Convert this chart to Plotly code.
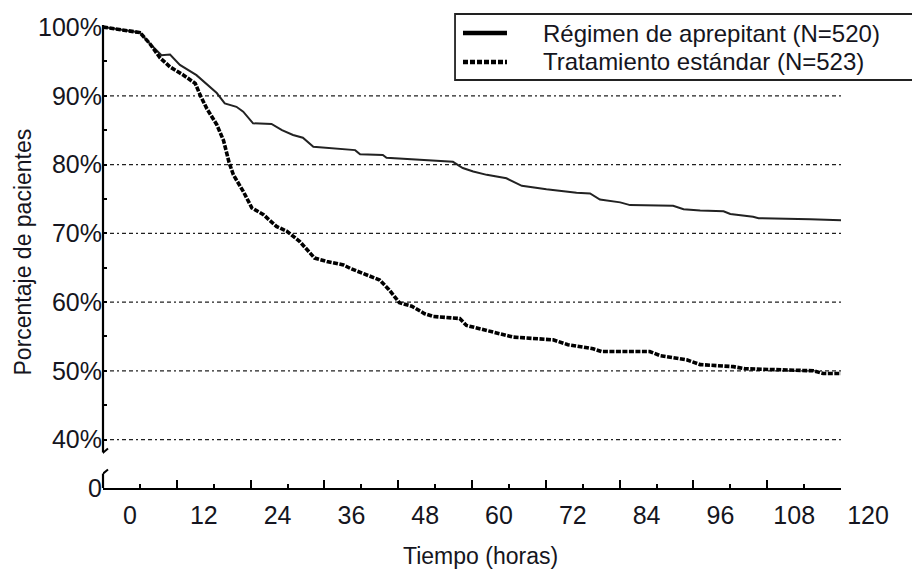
import plotly.graph_objects as go

# ---- data ----
apre_hours = [0, 2.8, 6.0, 7.6, 9.5, 10.9, 12.5, 15.2, 16.3, 18.5, 19.8, 21.7, 22.8, 24.4,
              27.4, 29.1, 30.9, 32.5, 34.2, 36.9, 39.6, 41.0, 41.8, 45.5, 46.1, 50.4, 53.2,
              56.9, 58.5, 60.2, 62.4, 65.6, 68.1, 72.1, 77.0, 79.2, 80.8, 84.1, 85.7, 92.7,
              94.4, 97.1, 100.9, 102.0, 105.7, 106.6, 115.0, 120]
apre_pct = [100, 99.6, 99.2, 97.6, 95.9, 96.0, 94.5, 93.0, 92.1, 90.4, 88.9, 88.4, 87.7, 86.0,
            85.9, 85.0, 84.3, 83.9, 82.6, 82.4, 82.1, 82.1, 81.5, 81.4, 81.0, 80.8, 80.6,
            80.4, 79.5, 79.0, 78.5, 78.0, 76.9, 76.4, 75.9, 75.8, 74.9, 74.5, 74.1, 74.0,
            73.5, 73.3, 73.2, 72.8, 72.4, 72.2, 72.05, 71.9]

std_hours = [0, 2.8, 6.0, 7.6, 9.3, 10.9, 13.1, 15.0, 15.8, 16.9, 18.5, 19.6, 20.5, 21.2,
             22.8, 24.2, 26.1, 28.2, 29.9, 32.0, 34.4, 36.4, 39.1, 40.2, 42.9, 45.0, 46.5,
             48.2, 50.2, 52.3, 53.7, 58.0, 59.1, 62.4, 63.5, 66.7, 73.2, 75.6, 79.7, 81.1,
             88.9, 90.6, 94.9, 97.1, 102.5, 104.4, 115.5, 117.1, 120]
std_pct = [100, 99.6, 99.2, 97.6, 95.5, 94.2, 93.0, 91.8, 90.1, 88.1, 85.8, 83.5, 80.3, 78.5,
           76.1, 73.7, 72.7, 71.0, 70.3, 68.8, 66.4, 65.9, 65.4, 64.9, 64.0, 63.2, 61.8,
           59.9, 59.4, 58.3, 57.9, 57.6, 56.6, 55.9, 55.7, 54.9, 54.5, 53.8, 53.2, 52.8,
           52.8, 52.2, 51.6, 50.9, 50.6, 50.3, 50.0, 49.6, 49.6]

series_names = ["Régimen de aprepitant (N=520)", "Tratamiento estándar (N=523)"]

x_tick_vals = [0, 12, 24, 36, 48, 60, 72, 84, 96, 108, 120]
x_tick_text = ["0", "12", "24", "36", "48", "60", "72", "84", "96", "108", "120"]
x_minor_vals = [6, 18, 30, 42, 54, 66, 78, 90, 102, 114]

Y_BOTTOM = 32.95   # shown as "0" (broken axis)
Y_TOP = 100.3
y_tick_vals = [Y_BOTTOM, 40, 50, 60, 70, 80, 90, 100]
y_tick_text = ["0", "40%", "50%", "60%", "70%", "80%", "90%", "100%"]
y_minor_vals = [45, 55, 65, 75, 85, 95]
grid_levels = [40, 50, 60, 70, 80, 90]
Y_BREAK_HI = 38.1
Y_BREAK_LO = 35.05

FONT = "Liberation Sans, Arial, sans-serif"
TXT = "#151520"
STD_DASH = "5px,1.5px"

fig = go.Figure()

fig.add_trace(go.Scatter(x=apre_hours, y=apre_pct, mode="lines", name=series_names[0],
                         showlegend=False, line=dict(color="#222222", width=2)))
fig.add_trace(go.Scatter(x=std_hours, y=std_pct, mode="lines", name=series_names[1],
                         showlegend=False, line=dict(color="#000000", width=3.6, dash=STD_DASH)))

shapes = []
for lv in grid_levels:
    shapes.append(dict(type="line", xref="x", yref="y", x0=0, x1=120, y0=lv, y1=lv,
                       layer="below",
                       line=dict(color="#202020", width=1.3, dash="4px,3px,4px,3px,2px,3px")))
# broken y axis
shapes.append(dict(type="line", xref="x domain", yref="y", x0=0, x1=0, y0=Y_BREAK_HI, y1=Y_TOP,
                   line=dict(color="#000", width=2.2)))
shapes.append(dict(type="line", xref="x domain", yref="y", x0=0, x1=0, y0=Y_BOTTOM, y1=Y_BREAK_LO,
                   line=dict(color="#000", width=2.2)))
for yb in (Y_BREAK_HI, Y_BREAK_LO):
    shapes.append(dict(type="line", xref="x", yref="y", xsizemode="pixel", ysizemode="pixel",
                       xanchor=0, yanchor=yb, x0=-6, x1=5, y0=-5, y1=4,
                       line=dict(color="#000", width=2)))

# legend box (drawn as in the reference, open at the right edge)
shapes.append(dict(type="rect", xref="paper", yref="paper", x0=0.477, x1=1.13,
                   y0=0.8812, y1=1.0238, line=dict(color="#222", width=1.8),
                   fillcolor="white"))
legend_rows_y = [0.9827, 0.9201]
shapes.append(dict(type="line", xref="paper", yref="paper", x0=0.4878, x1=0.5474,
                   y0=legend_rows_y[0], y1=legend_rows_y[0],
                   line=dict(color="#000", width=4.5)))
shapes.append(dict(type="line", xref="paper", yref="paper", x0=0.4878, x1=0.5474,
                   y0=legend_rows_y[1], y1=legend_rows_y[1],
                   line=dict(color="#000", width=4.5, dash="5px,2px")))

annotations = [
    dict(text="Tiempo (horas)", xref="paper", yref="paper", x=0.5, y=0,
         xanchor="center", yanchor="middle", xshift=8, yshift=-68, showarrow=False,
         font=dict(size=23, color=TXT)),
    dict(text="Porcentaje de pacientes", xref="paper", yref="paper", x=0, y=0.5,
         xanchor="center", yanchor="middle", xshift=-81, yshift=4, textangle=-90,
         showarrow=False, font=dict(size=23, color=TXT)),
]
for name, ry in zip(series_names, legend_rows_y):
    annotations.append(dict(text=name, xref="paper", yref="paper", x=0.5935, y=ry,
                            xanchor="left", yanchor="middle", showarrow=False,
                            font=dict(size=24, color=TXT)))

fig.update_layout(
    width=912, height=562,
    margin=dict(l=95, r=79, t=17, b=82, autoexpand=False),
    paper_bgcolor="white", plot_bgcolor="white",
    font=dict(family=FONT, size=24, color=TXT),
    shapes=shapes,
    annotations=annotations,
    showlegend=False,
    xaxis=dict(range=[0, 120], showgrid=False, zeroline=False, automargin=False,
               showline=True, linecolor="#000", linewidth=2.2,
               tickmode="array", tickvals=x_tick_vals, ticktext=x_tick_text,
               ticks="inside", ticklen=8, tickwidth=2, tickcolor="#000",
               ticklabelshift=27, ticklabelstandoff=4,
               tickfont=dict(size=25, color=TXT),
               minor=dict(tickmode="array", tickvals=x_minor_vals, ticks="inside",
                          ticklen=4, tickwidth=1.5, tickcolor="#000")),
    yaxis=dict(range=[Y_BOTTOM, Y_TOP], showgrid=False, zeroline=False, showline=False,
               automargin=False,
               tickmode="array", tickvals=y_tick_vals, ticktext=y_tick_text,
               ticks="inside", ticklen=4, tickwidth=1.5, tickcolor="#000",
               ticklabelstandoff=0,
               tickfont=dict(size=25, color=TXT),
               minor=dict(tickmode="array", tickvals=y_minor_vals, ticks="inside",
                          ticklen=4, tickwidth=1.5, tickcolor="#000")),
)

fig.write_html("out.html")
